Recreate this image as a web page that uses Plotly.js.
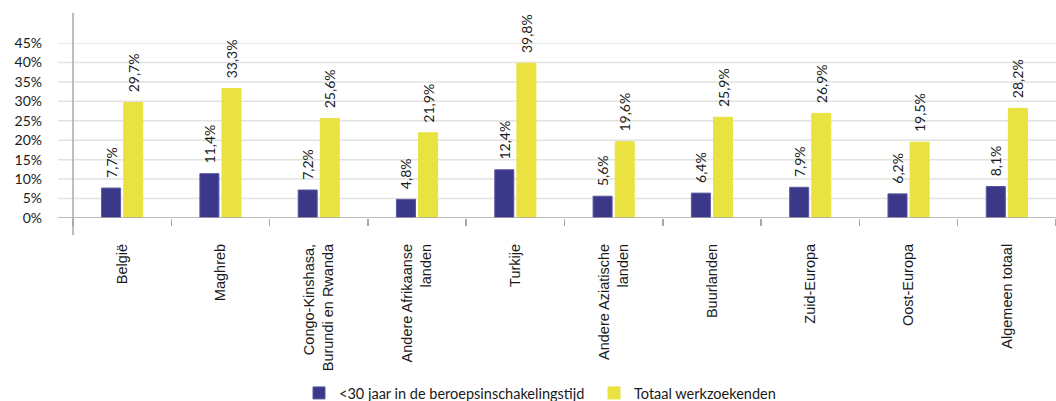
<!DOCTYPE html>
<html>
<head>
<meta charset="utf-8">
<script src="https://cdn.plot.ly/plotly-3.0.1.min.js"></script>
<style>html,body{margin:0;padding:0;background:#fff;}#chart{width:1056px;height:401px;}</style>
</head>
<body>
<div id="chart"></div>
<script>
const categories = [
  "België",
  "Maghreb",
  "Congo-Kinshasa,<br>Burundi en Rwanda",
  "Andere Afrikaanse<br>landen",
  "Turkije",
  "Andere Aziatische<br>landen",
  "Buurlanden",
  "Zuid-Europa",
  "Oost-Europa",
  "Algemeen totaal"
];
const seriesNames = ["<30 jaar in de beroepsinschakelingstijd", "Totaal werkzoekenden"];
const youngValues = [7.7, 11.4, 7.2, 4.8, 12.4, 5.6, 6.4, 7.9, 6.2, 8.1];
const totalValues = [29.7, 33.3, 25.6, 21.9, 39.8, 19.6, 25.9, 26.9, 19.5, 28.2];
const yTickValues = [0, 5, 10, 15, 20, 25, 30, 35, 40, 45];
const yTickLabels = ["0%", "5%", "10%", "15%", "20%", "25%", "30%", "35%", "40%", "45%"];

const fmt = v => "\u00A0\u00A0" + v.toFixed(1).replace(".", ",") + "%";
const FONT = "Lato, 'Open Sans', sans-serif";
const CATFONT = "'Liberation Sans', Arial, sans-serif";
const W = 1056, H = 401;
const M = {l: 73, r: 0, t: 43, b: 183};
const plotW = W - M.l - M.r, plotH = H - M.t - M.b;
const px2paperX = px => (px - M.l) / plotW;
const px2paperY = py => (H - M.b - py) / plotH;

function barTrace(name, values, color, line, legendId) {
  return {
    type: "bar", name: name, x: categories, y: values, legend: legendId,
    marker: {color: color, line: {color: line, width: 1}},
    text: values.map(fmt), textposition: "outside", textangle: -90,
    constraintext: "none", cliponaxis: false,
    textfont: {family: FONT, size: 14, color: "#1a1a1a"},
    hoverinfo: "skip"
  };
}

const data = [
  barTrace(seriesNames[0], youngValues, "#3b3789", "#5a57a0", "legend"),
  barTrace(seriesNames[1], totalValues, "#e9e240", "#e9e240", "legend2")
];

const shapes = yTickValues.filter(v => v > 0).map(v => ({
  type: "line", xref: "paper", yref: "y", x0: px2paperX(58), x1: 1, y0: v, y1: v,
  line: {color: "#e2e2de", width: 1.5}, layer: "below"
}));
shapes.push({type: "line", xref: "paper", yref: "y", x0: px2paperX(58), x1: 1, y0: 0, y1: 0,
  line: {color: "#a8a8a8", width: 1.5}, layer: "above"});
shapes.push({type: "line", xref: "paper", yref: "paper", x0: 0, x1: 0,
  y0: px2paperY(235), y1: px2paperY(13), line: {color: "#a8a8a8", width: 1.5}});

const legendBase = {orientation: "h", xref: "container", yref: "container",
  xanchor: "left", y: 1 - 393 / H, yanchor: "middle",
  font: {family: FONT, size: 14.5, color: "#1a1a1a"}, itemclick: false, bgcolor: "rgba(0,0,0,0)"};

const layout = {
  width: W, height: H, margin: M,
  paper_bgcolor: "#fff", plot_bgcolor: "#fff",
  font: {family: FONT, size: 13, color: "#1a1a1a"},
  barmode: "group", bargap: 0.55, bargroupgap: 0.14,
  showlegend: true,
  legend: Object.assign({}, legendBase, {x: 299 / W}),
  legend2: Object.assign({}, legendBase, {x: 594 / W}),
  xaxis: {
    type: "category", tickangle: -90, tickson: "boundaries", ticks: "outside", ticklen: 7,
    tickcolor: "#a8a8a8", tickwidth: 1.5, showline: false, showgrid: false, zeroline: false,
    automargin: false,
    ticklabelstandoff: 22, tickfont: {family: CATFONT, size: 14.5, color: "#1a1a1a"}, fixedrange: true
  },
  yaxis: {
    range: [0, 45], tickvals: yTickValues, ticktext: yTickLabels, showgrid: false, zeroline: false,
    showline: false, ticks: "", ticklabelstandoff: 30, automargin: false,
    tickfont: {family: FONT, size: 14, color: "#1a1a1a"}, fixedrange: true
  },
  shapes: shapes
};

Plotly.newPlot("chart", data, layout, {displayModeBar: false, staticPlot: true});
</script>
</body>
</html>
